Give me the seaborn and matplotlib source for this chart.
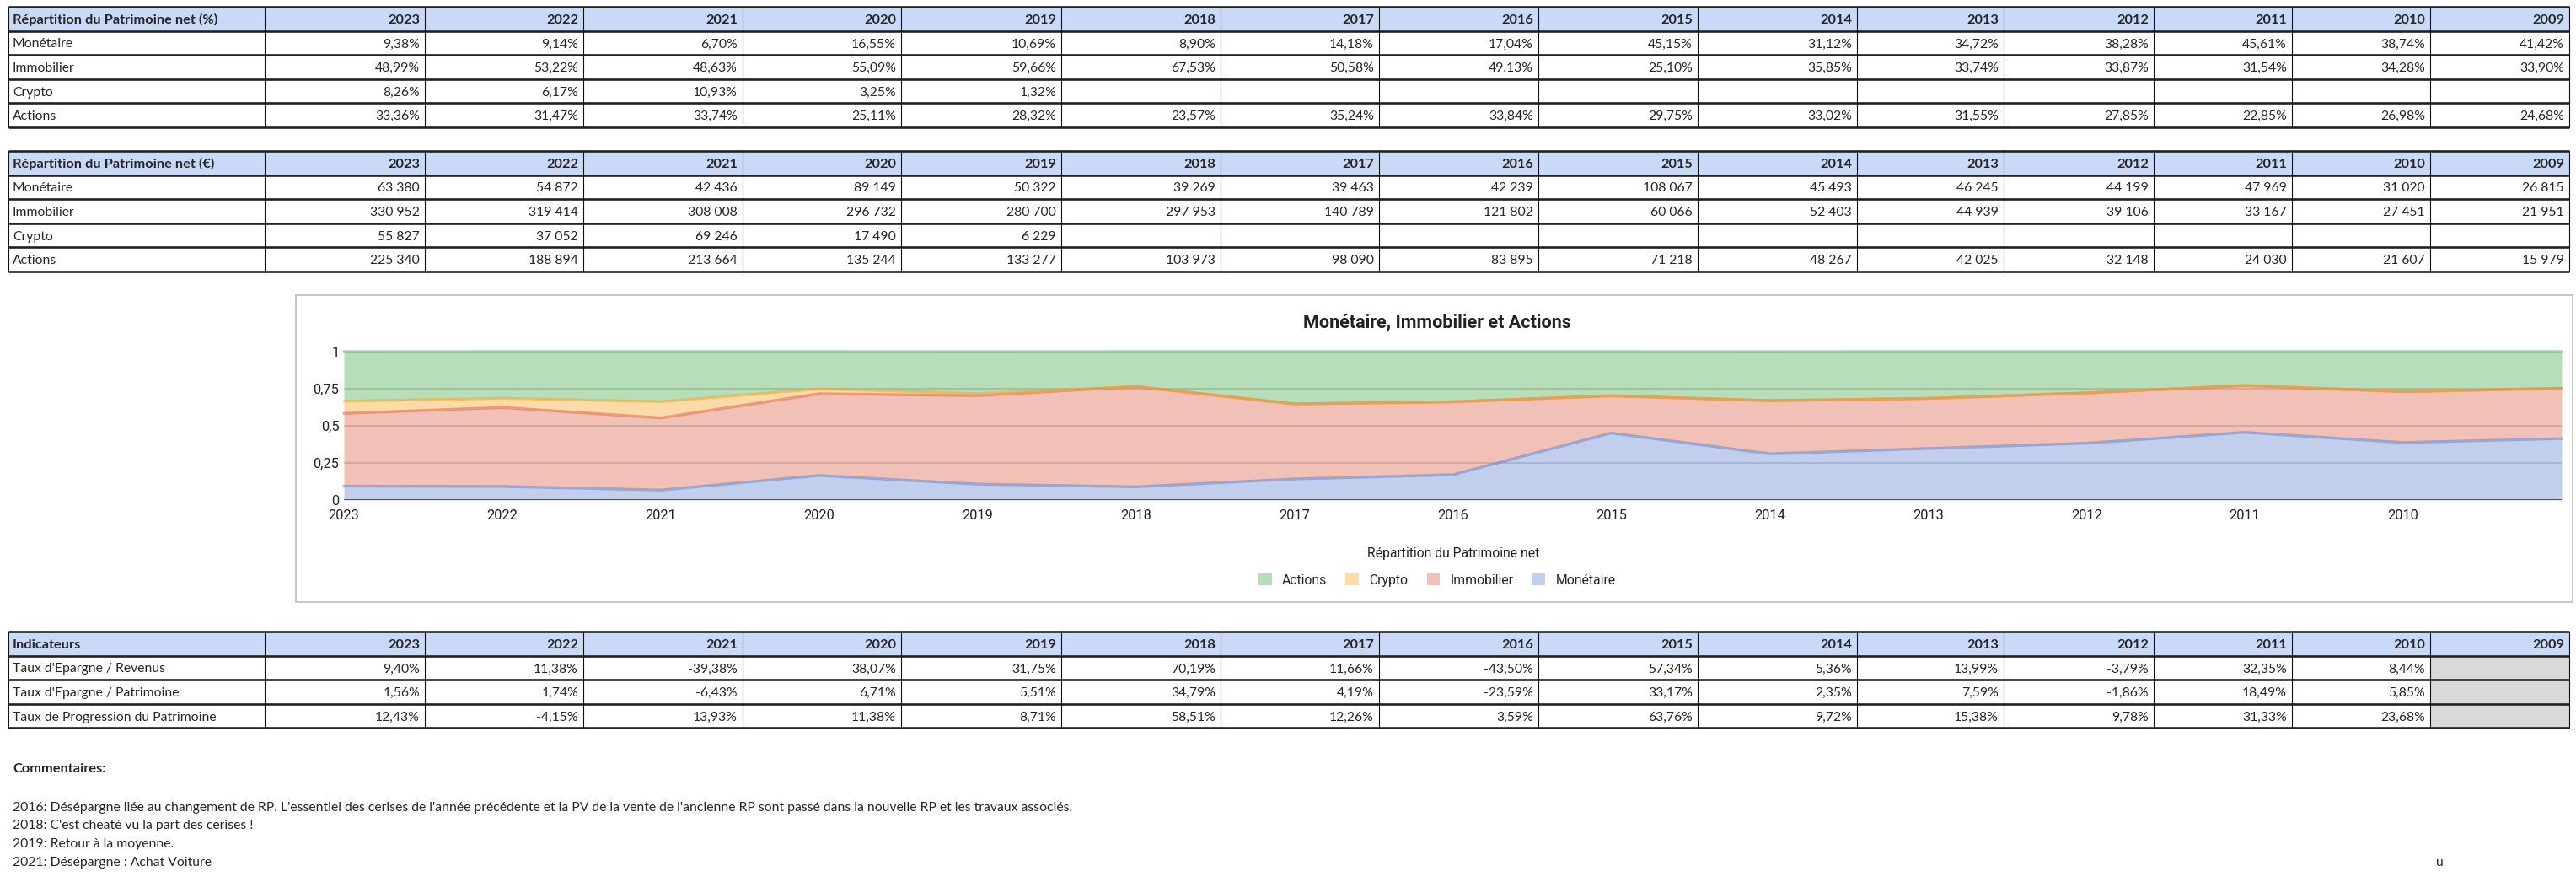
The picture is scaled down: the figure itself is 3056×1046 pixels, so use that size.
import numpy as np
import pandas as pd
import matplotlib
matplotlib.use("Agg")
import matplotlib.pyplot as plt
from matplotlib.patches import Rectangle, Patch
import seaborn as sns

# ================================
# Data
# ================================
years = [2023, 2022, 2021, 2020, 2019, 2018, 2017, 2016, 2015, 2014, 2013, 2012, 2011, 2010, 2009]
series = ["Monétaire", "Immobilier", "Crypto", "Actions"]

pct_monetaire = [9.38, 9.14, 6.70, 16.55, 10.69, 8.90, 14.18, 17.04, 45.15, 31.12, 34.72, 38.28, 45.61, 38.74, 41.42]
pct_immobilier = [48.99, 53.22, 48.63, 55.09, 59.66, 67.53, 50.58, 49.13, 25.10, 35.85, 33.74, 33.87, 31.54, 34.28, 33.90]
pct_crypto = [8.26, 6.17, 10.93, 3.25, 1.32, None, None, None, None, None, None, None, None, None, None]
pct_actions = [33.36, 31.47, 33.74, 25.11, 28.32, 23.57, 35.24, 33.84, 29.75, 33.02, 31.55, 27.85, 22.85, 26.98, 24.68]

eur_monetaire = [63380, 54872, 42436, 89149, 50322, 39269, 39463, 42239, 108067, 45493, 46245, 44199, 47969, 31020, 26815]
eur_immobilier = [330952, 319414, 308008, 296732, 280700, 297953, 140789, 121802, 60066, 52403, 44939, 39106, 33167, 27451, 21951]
eur_crypto = [55827, 37052, 69246, 17490, 6229, None, None, None, None, None, None, None, None, None, None]
eur_actions = [225340, 188894, 213664, 135244, 133277, 103973, 98090, 83895, 71218, 48267, 42025, 32148, 24030, 21607, 15979]

indicateurs = ["Taux d'Epargne / Revenus", "Taux d'Epargne / Patrimoine", "Taux de Progression du Patrimoine"]
epargne_revenus = [9.40, 11.38, -39.38, 38.07, 31.75, 70.19, 11.66, -43.50, 57.34, 5.36, 13.99, -3.79, 32.35, 8.44, None]
epargne_patrimoine = [1.56, 1.74, -6.43, 6.71, 5.51, 34.79, 4.19, -23.59, 33.17, 2.35, 7.59, -1.86, 18.49, 5.85, None]
progression = [12.43, -4.15, 13.93, 11.38, 8.71, 58.51, 12.26, 3.59, 63.76, 9.72, 15.38, 9.78, 31.33, 23.68, None]

commentaires = [
    "2016: Désépargne liée au changement de RP. L'essentiel des cerises de l'année précédente et la PV de la vente de l'ancienne RP sont passé dans la nouvelle RP et les travaux associés.",
    "2018: C'est cheaté vu la part des cerises !",
    "2019: Retour à la moyenne.",
    "2021: Désépargne : Achat Voiture",
]

# ================================
# Style
# ================================
sns.set_style("white")
TABLE_FONT = ["Lato", "DejaVu Sans"]
CHART_FONT = ["Roboto", "DejaVu Sans"]
plt.rcParams["font.family"] = TABLE_FONT

HEADER_BLUE = "#c9daf8"
GRAY = "#d9d9d9"
fill_colors = {"Monétaire": "#6489d4", "Immobilier": "#dc664d", "Crypto": "#faa72a", "Actions": "#4baa50"}
legend_colors = {"Monétaire": "#c1d0ee", "Immobilier": "#f1c2b8", "Crypto": "#fddcaa", "Actions": "#b7ddb9"}

W, H = 3056, 1046
fig = plt.figure(figsize=(W / 100, H / 100), dpi=100)
bg = fig.add_axes([0, 0, 1, 1])
bg.set_xlim(0, W)
bg.set_ylim(H, 0)
bg.axis("off")

col_edges = [10, 314, 504, 692, 881, 1069, 1259, 1448, 1636, 1825, 2014, 2203, 2377, 2555, 2719, 2883, 3048]
ROW_H = 28.6
FS = 11.3
FS_BOLD = 11.8


def fmt_pct(v):
    return "" if v is None else f"{v:.2f}%".replace(".", ",")


def fmt_eur(v):
    return "" if v is None else f"{v:,}".replace(",", " ")


def draw_table(top, title, labels, rows, gray_last=False):
    n = len(labels) + 1
    left, right = col_edges[0], col_edges[-1]
    bg.add_patch(Rectangle((left, top), right - left, ROW_H, fc=HEADER_BLUE, ec="none", zorder=1))
    if gray_last:
        bg.add_patch(Rectangle((col_edges[-2], top + ROW_H), right - col_edges[-2], ROW_H * (n - 1),
                               fc=GRAY, ec="none", zorder=1))
    # grid lines
    for i in range(n + 1):
        y = top + i * ROW_H
        bg.plot([left, right], [y, y], color="#222222", lw=1.9, zorder=3, solid_capstyle="butt")
    for x in col_edges:
        bg.plot([x, x], [top, top + n * ROW_H], color="#111111", lw=0.8, zorder=3)
    # header
    yc = top + ROW_H / 2 + 1.5
    bg.text(left + 5, yc, title, ha="left", va="center", fontsize=FS_BOLD, fontweight="bold", zorder=4)
    for j, yr in enumerate(years):
        bg.text(col_edges[j + 2] - 6, yc, str(yr), ha="right", va="center", fontsize=FS_BOLD,
                fontweight="bold", zorder=4)
    # body
    for i, (lab, vals) in enumerate(zip(labels, rows)):
        yc = top + (i + 1.5) * ROW_H + 1.5
        bg.text(left + 5, yc, lab, ha="left", va="center", fontsize=FS, zorder=4)
        for j, s in enumerate(vals):
            bg.text(col_edges[j + 2] - 6, yc, s, ha="right", va="center", fontsize=FS, zorder=4)


draw_table(8, "Répartition du Patrimoine net (%)", series,
           [[fmt_pct(v) for v in r] for r in (pct_monetaire, pct_immobilier, pct_crypto, pct_actions)])
draw_table(179, "Répartition du Patrimoine net (€)", series,
           [[fmt_eur(v) for v in r] for r in (eur_monetaire, eur_immobilier, eur_crypto, eur_actions)])
draw_table(749, "Indicateurs", indicateurs,
           [[fmt_pct(v) for v in r] for r in (epargne_revenus, epargne_patrimoine, progression)],
           gray_last=True)

# ================================
# Stacked area chart
# ================================
bg.add_patch(Rectangle((351, 350), 3052 - 351, 714 - 350, fc="white", ec="#bdbdbd", lw=1.2, zorder=1))

df = pd.DataFrame({
    "x": np.arange(len(years)),
    "Monétaire": pct_monetaire,
    "Immobilier": pct_immobilier,
    "Crypto": pct_crypto,
    "Actions": pct_actions,
}).fillna(0)
for s in series:
    df[s] = df[s] / 100.0

ax = fig.add_axes([408 / W, (H - 593) / H, (3039 - 408) / W, (593 - 417) / H])
ax.set_axisbelow(True)
ax.yaxis.grid(True, color="#cccccc", lw=1.2)
ax.xaxis.grid(False)
ax.stackplot(df["x"], *[df[s] for s in series], colors=[fill_colors[s] for s in series], alpha=0.4,
             lw=0, zorder=2)

cum = df[series].cumsum(axis=1)
lines = pd.concat([pd.DataFrame({"x": df["x"], "y": cum[s], "serie": s}) for s in series])
sns.lineplot(data=lines, x="x", y="y", hue="serie", palette=fill_colors, estimator=None,
             lw=2.4, alpha=0.55, legend=False, ax=ax, zorder=3, clip_on=False)
ax.axhline(0, color="#333333", lw=1.8, zorder=4)

ax.set_xlim(0, len(years) - 1)
ax.set_ylim(0, 1)
ax.set_xticks(np.arange(len(years) - 1))
ax.set_xticklabels([str(y) for y in years[:-1]], fontsize=11.8, family=CHART_FONT, color="#222222")
ax.set_yticks([0, 0.25, 0.5, 0.75, 1])
ax.set_yticklabels(["0", "0,25", "0,5", "0,75", "1"], fontsize=11.8, family=CHART_FONT, color="#222222")
ax.tick_params(axis="x", length=0, pad=8)
ax.tick_params(axis="y", length=0, pad=4)
ax.set_xlabel("")
ax.set_ylabel("")
sns.despine(ax=ax, left=True, bottom=True)

bg.text(1705, 382, "Monétaire, Immobilier et Actions", ha="center", va="center", fontsize=15.5,
        fontweight="bold", family=CHART_FONT, color="#222222", zorder=4)
bg.text(1724, 656, "Répartition du Patrimoine net", ha="center", va="center", fontsize=11.3,
        family=CHART_FONT, color="#222222", zorder=4)
handles = [Patch(facecolor=legend_colors[s], edgecolor="none") for s in series[::-1]]
fig.legend(handles, series[::-1], loc="center", bbox_to_anchor=(1705 / W, 1 - 688 / H), ncol=4,
           frameon=False, prop={"family": CHART_FONT, "size": 11.3}, handlelength=1.0, handleheight=1.0,
           handletextpad=0.8, columnspacing=1.4)

# ================================
# Commentaires
# ================================
bg.text(15, 912, "Commentaires:", ha="left", va="center", fontsize=FS_BOLD, fontweight="bold")
for k, line in enumerate(commentaires):
    bg.text(15, 958 + k * 21.5, line, ha="left", va="center", fontsize=FS)
bg.text(2890, 1023, "u", ha="left", va="center", fontsize=FS)

fig.savefig("out.png", dpi=100)
